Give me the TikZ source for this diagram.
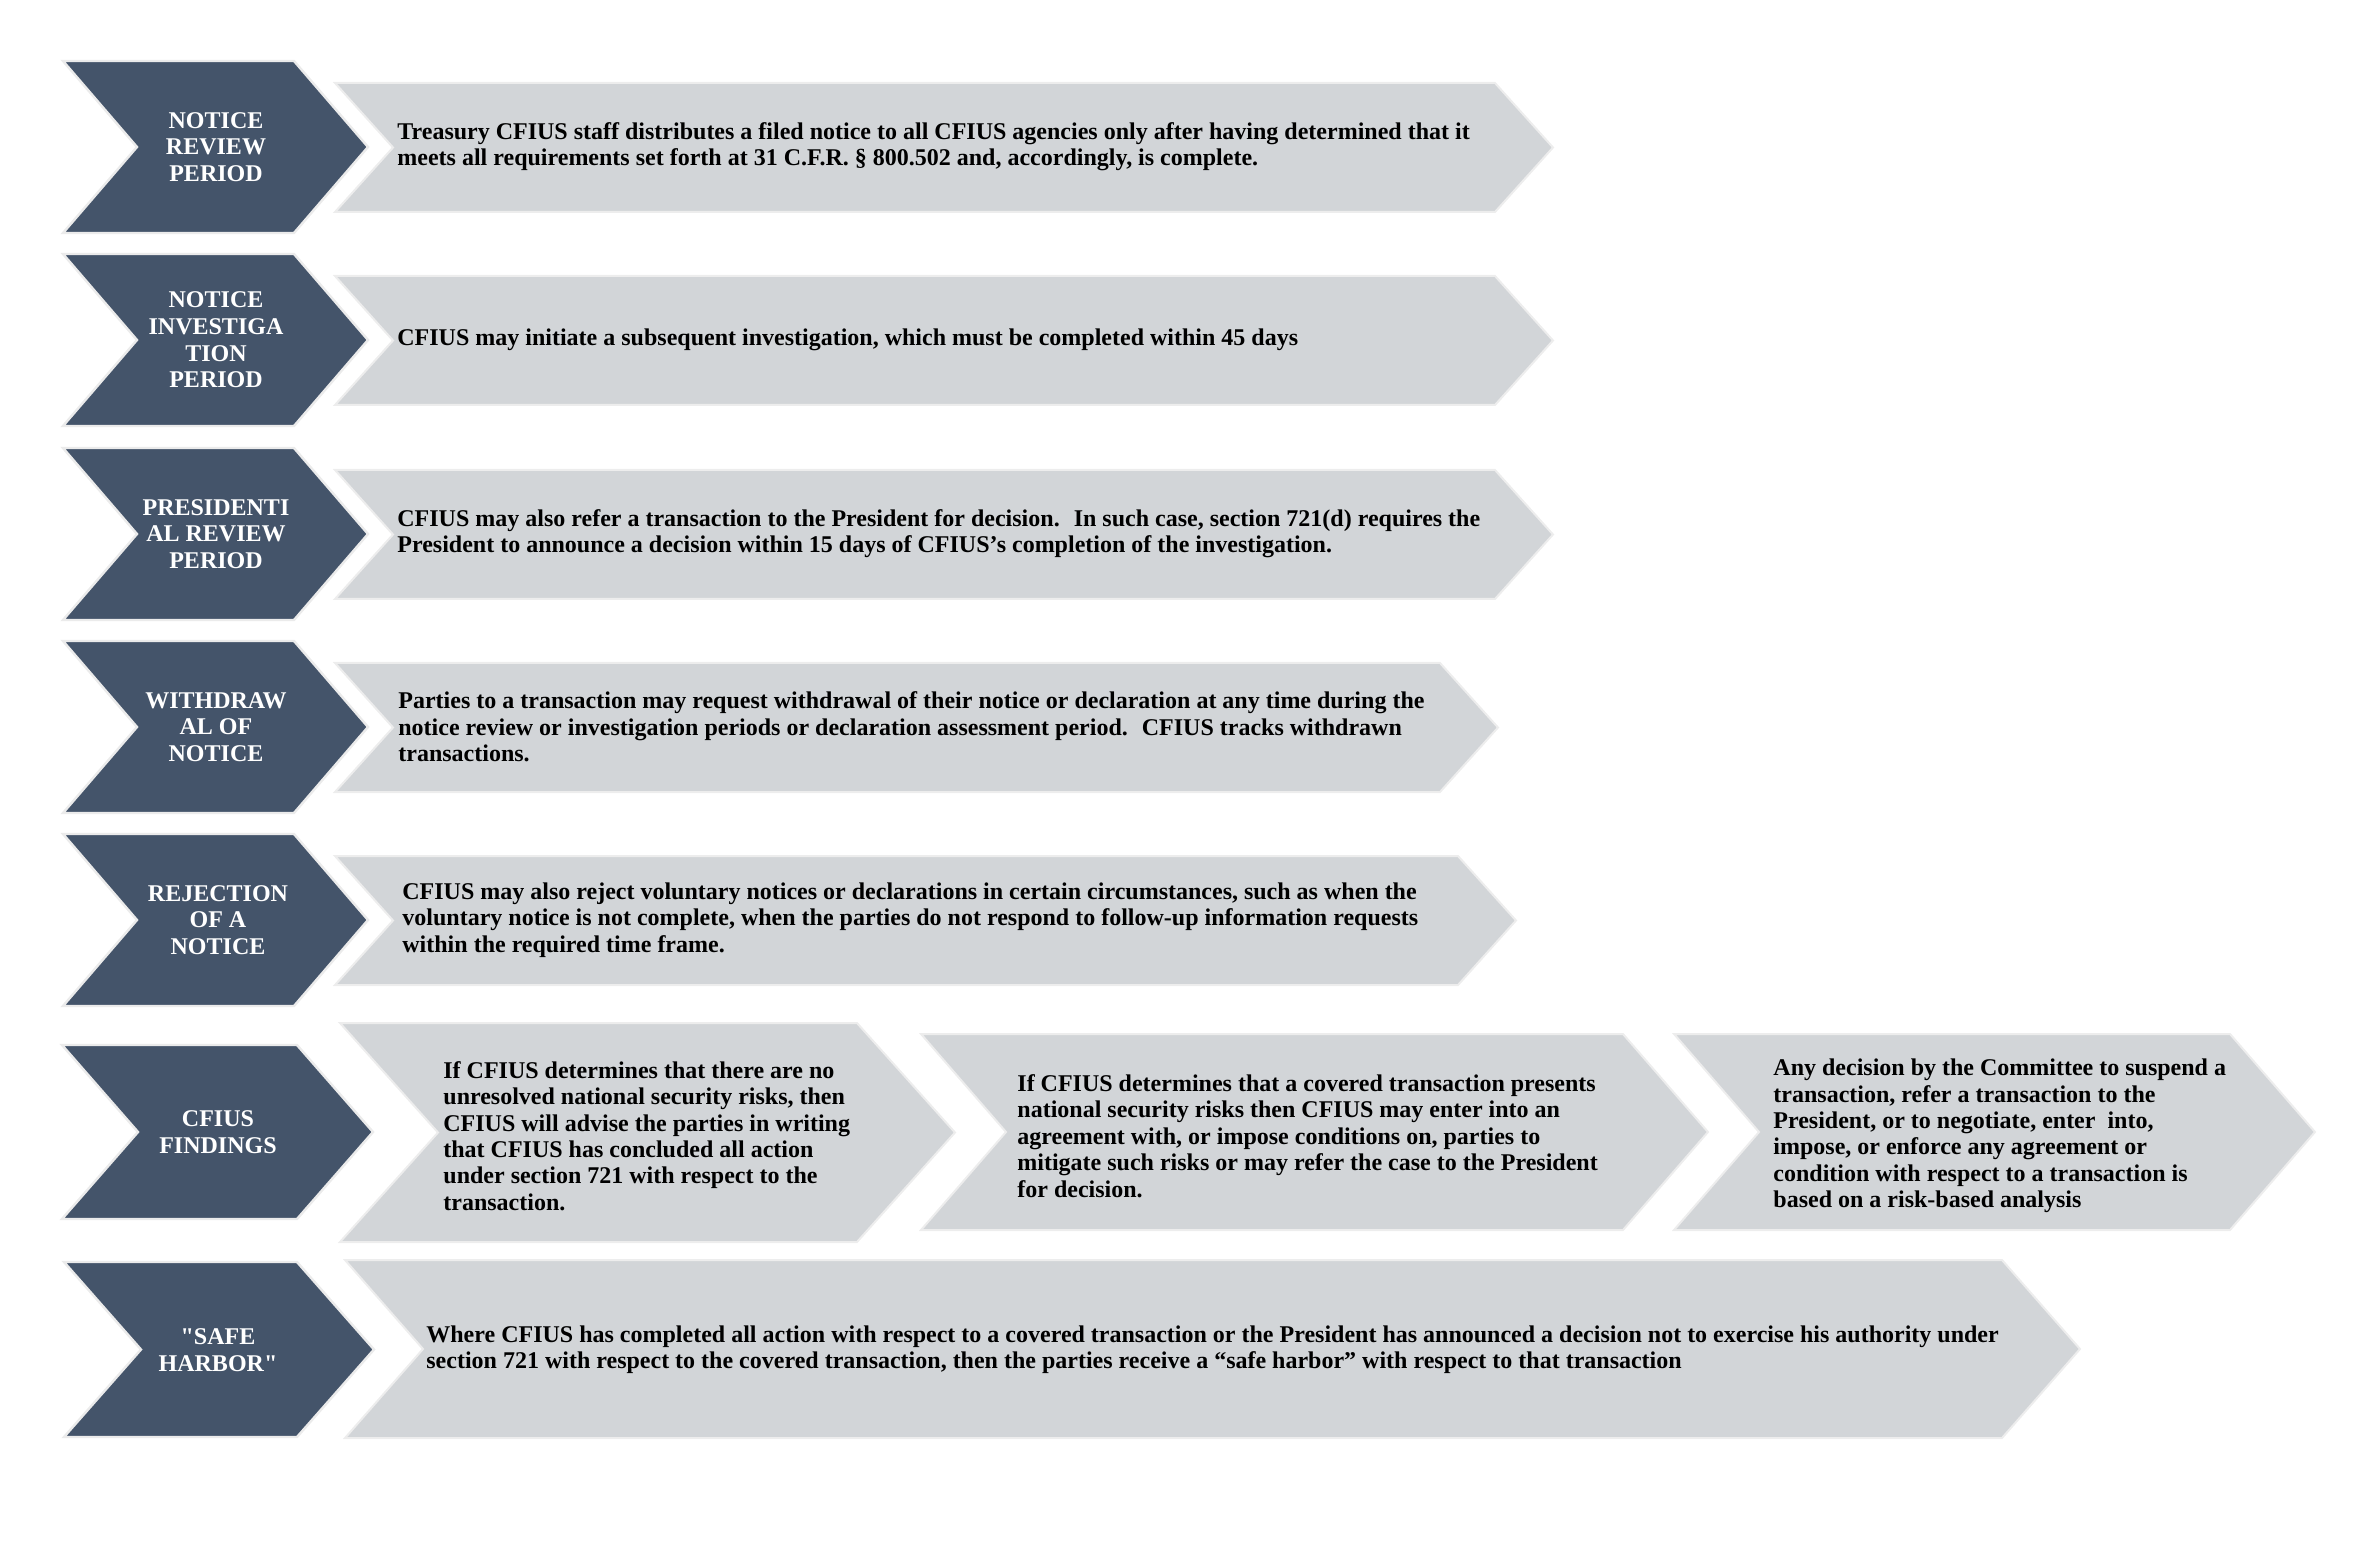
\documentclass[tikz,border=0pt]{standalone}
\usepackage{fontspec}
\setmainfont{Liberation Serif}[Ligatures=TeXOff]
\definecolor{slate}{HTML}{44546A}
\definecolor{stepgray}{RGB}{210,213,216}
% chevron: style, left, top, shoulder, bottom, depth
\newcommand{\chev}[6]{%
  \path[#1] (#2,#3) -- (#4,#3) -- ({#4+#6},{(#3+#5)/2}) -- (#4,#5)
    -- (#2,#5) -- ({#2+#6},{(#3+#5)/2}) -- cycle;}
\begin{document}
\begin{tikzpicture}[x=0.5pt,y=-0.5pt,
	head/.style={fill=slate, draw=black!8, line width=1.2pt},
	body/.style={fill=stepgray, draw=black!7, line width=1pt},
	lbl/.style={text=white, font=\fontsize{12}{13.3}\selectfont\bfseries, align=center, inner sep=0pt},
	txt/.style={anchor=west, font=\fontsize{12}{13.2}\selectfont\bfseries, align=left, inner sep=0pt}]
	\useasboundingbox (0,0) rectangle (2376,1550);
	% left column
	\foreach \y in {61,254,448,641,834}
		\chev{head}{63}{\y}{294}{\y+172}{74};
	\chev{head}{62}{1045}{297}{1219}{76}
	\chev{head}{64}{1262}{297}{1437}{77}
	% gray steps
	\foreach \y/\s in {83/1495,276/1495,470/1495,663/1440,856/1458}
		\chev{body}{335}{\y}{\s}{\y+129}{58};
	\chev{body}{340}{1023}{857}{1242}{98}
	\chev{body}{921}{1034}{1623}{1230}{85}
	\chev{body}{1674}{1034}{2230}{1230}{85}
	\chev{body}{345}{1260}{2002}{1438}{78}
	% labels
	\node[lbl] (review) at (216,147) {NOTICE\\REVIEW\\PERIOD};
	\node[lbl] (invest) at (216,340) {NOTICE\\INVESTIGA\\TION\\PERIOD};
	\node[lbl] (pres) at (216,534) {PRESIDENTI\\AL REVIEW\\PERIOD};
	\node[lbl] (withdraw) at (216,727) {WITHDRAW\\AL OF\\NOTICE};
	\node[lbl] (reject) at (218,920) {REJECTION\\OF A\\NOTICE};
	\node[lbl] (findings) at (218,1132) {CFIUS\\FINDINGS};
	\node[lbl] (harbor) at (218,1350) {"SAFE\\HARBOR"};
	% texts
	\node[txt] (review-t) at (397,147) {Treasury CFIUS staff distributes a filed notice to all CFIUS agencies only after having determined that it\\meets all requirements set forth at 31 C.F.R. § 800.502 and, accordingly, is complete.};
	\node[txt] (invest-t) at (397,340) {CFIUS may initiate a subsequent investigation, which must be completed within 45 days};
	\node[txt] (pres-t) at (397,534) {CFIUS may also refer a transaction to the President for decision.~ In such case, section 721(d) requires the\\President to announce a decision within 15 days of CFIUS’s completion of the investigation.};
	\node[txt] (withdraw-t) at (398,727) {Parties to a transaction may request withdrawal of their notice or declaration at any time during the\\notice review or investigation periods or declaration assessment period.~ CFIUS tracks withdrawn\\transactions.};
	\node[txt] (reject-t) at (402,920) {CFIUS may also reject voluntary notices or declarations in certain circumstances, such as when the\\voluntary notice is not complete, when the parties do not respond to follow-up information requests\\within the required time frame.};
	\node[txt] (findings-a) at (443,1136) {If CFIUS determines that there are no\\unresolved national security risks, then\\CFIUS will advise the parties in writing\\that CFIUS has concluded all action\\under section 721 with respect to the\\transaction.};
	\node[txt] (findings-b) at (1017,1136) {If CFIUS determines that a covered transaction presents\\national security risks then CFIUS may enter into an\\agreement with, or impose conditions on, parties to\\mitigate such risks or may refer the case to the President\\for decision.};
	\node[txt] (findings-c) at (1773,1136) {Any decision by the Committee to suspend a\\transaction, refer a transaction to the\\President, or to negotiate, enter~ into,\\impose, or enforce any agreement or\\condition with respect to a transaction is\\based on a risk-based analysis};
	\node[txt] (harbor-t) at (426,1350) {Where CFIUS has completed all action with respect to a covered transaction or the President has announced a decision not to exercise his authority under\\section 721 with respect to the covered transaction, then the parties receive a “safe harbor” with respect to that transaction};
\end{tikzpicture}
\end{document}
